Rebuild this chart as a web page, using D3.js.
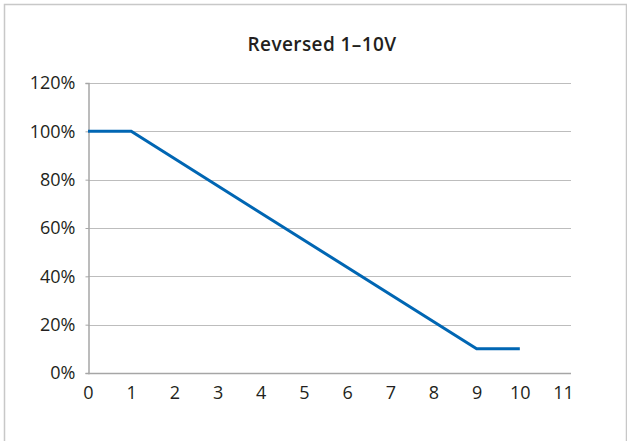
<!DOCTYPE html>
<html>
<head>
<meta charset="utf-8">
<script src="https://d3js.org/d3.v7.min.js"></script>
<style>
  body { margin: 0; background: #fff; }
  svg { display: block; font-family: "Open Sans", Lato, sans-serif; }
</style>
</head>
<body>
<svg id="chart"></svg>
<script>
// control voltage (V) vs light output (%)
var voltage = [0, 1, 9, 10];
var output = [100, 100, 10, 10];
var xTicks = [0, 1, 2, 3, 4, 5, 6, 7, 8, 9, 10, 11];
var yTicks = [0, 20, 40, 60, 80, 100, 120];
var title = "Reversed 1–10V";

var W = 627, H = 441;
var svg = d3.select("#chart").attr("width", W).attr("height", H);

// outer frame (top, left, right)
svg.append("path")
    .attr("d", "M4.5," + H + "V4.5H" + (W - 0.5) + "V" + H)
    .attr("fill", "none").attr("stroke", "#c8c8c8").attr("stroke-width", 1.5);

var x = d3.scaleLinear().domain([0, 11]).range([88, 563]);
var y = d3.scaleLinear().domain([0, 120]).range([373, 83]);
var plotRight = x(11) + 8;

svg.append("text")
    .attr("x", 322).attr("y", 51)
    .attr("text-anchor", "middle")
    .attr("font-size", 19).attr("font-weight", 600)
    .attr("letter-spacing", 0.4)
    .attr("fill", "#231f20")
    .text(title);

// gridlines
svg.append("g").selectAll("line")
    .data(yTicks.filter(d => d > 0))
    .enter().append("line")
    .attr("x1", x(0)).attr("x2", plotRight)
    .attr("y1", d => Math.round(y(d)) + 0.5).attr("y2", d => Math.round(y(d)) + 0.5)
    .attr("stroke", "#bdbdbd").attr("stroke-width", 1);

var yAxis = svg.append("g")
    .attr("transform", "translate(" + (Math.round(x(0)) + 0.5) + ",0)")
    .call(d3.axisLeft(y).tickValues(yTicks).tickSize(3).tickPadding(10).tickFormat(d => d + "%"));

var xAxis = svg.append("g")
    .attr("transform", "translate(0," + (Math.round(y(0)) + 0.5) + ")")
    .call(d3.axisBottom(x).tickValues(xTicks).tickSize(0).tickPadding(13).tickFormat(d3.format("d")));
xAxis.select(".domain").attr("d", "M" + x(0) + ",0H" + plotRight);

[yAxis, xAxis].forEach(function(g) {
  g.attr("font-size", 18).attr("font-family", "\"Open Sans\", Lato, sans-serif");
  g.select(".domain").attr("stroke", "#a6a6a6").attr("stroke-width", 1.5);
  g.selectAll(".tick line").attr("stroke", "#a6a6a6");
  g.selectAll(".tick text").attr("fill", "#231f20");
});

var line = d3.line().x((d, i) => x(voltage[i])).y(d => y(d));
svg.append("path")
    .datum(output)
    .attr("d", line)
    .attr("fill", "none")
    .attr("stroke", "#0066b3")
    .attr("stroke-width", 3);
</script>
</body>
</html>
